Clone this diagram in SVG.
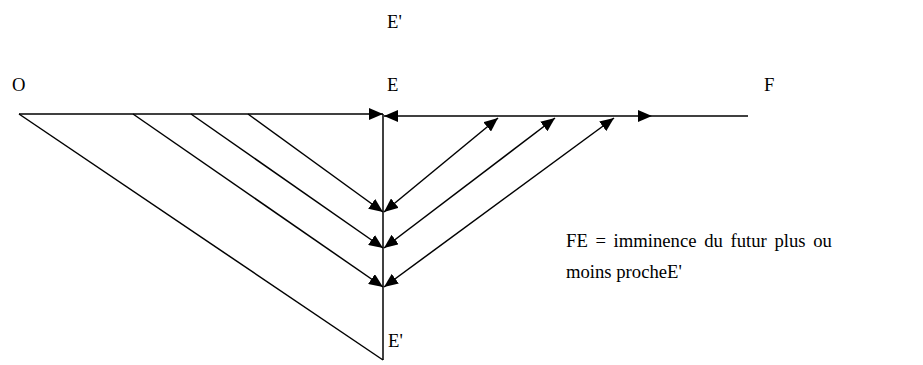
<svg xmlns="http://www.w3.org/2000/svg" width="923" height="365" viewBox="0 0 923 365">
<style>
text{font-family:"Liberation Serif","Times New Roman",serif;font-size:18.67px;fill:#000}
.ln{stroke:#000;stroke-width:1.5;fill:none}
.a{marker-end:url(#ah)}
.aa{marker-start:url(#ah);marker-end:url(#ah)}
</style>
<defs>
<marker id="ah" markerUnits="userSpaceOnUse" markerWidth="15" markerHeight="12" refX="14" refY="6" orient="auto-start-reverse">
<path d="M0,0 L14,6 L0,12 z" fill="#000"/>
</marker>
</defs>
<rect width="923" height="365" fill="#fff"/>
<g id="labels">
<text x="387" y="28">E'</text>
<text x="12" y="91">O</text>
<text x="387" y="91">E</text>
<text x="764" y="91">F</text>
<text x="388" y="347">E'</text>
<text x="566" y="247" word-spacing="3">FE = imminence du futur plus ou</text>
<text x="566" y="278">moins procheE'</text>
</g>
<g id="connectors">
<line class="ln a" x1="19" y1="114" x2="383" y2="114"/>
<line class="ln" x1="19" y1="114" x2="383" y2="360"/>
<line class="ln" x1="383" y1="114" x2="383" y2="360"/>
<line class="ln a" x1="133" y1="114" x2="383" y2="287"/>
<line class="ln a" x1="191" y1="114" x2="383" y2="248"/>
<line class="ln a" x1="248" y1="114" x2="383" y2="212"/>
<line class="ln aa" x1="384" y1="116" x2="652" y2="116"/>
<line class="ln" x1="652" y1="116" x2="748" y2="116"/>
<line class="ln aa" x1="384" y1="212" x2="498" y2="118"/>
<line class="ln aa" x1="384" y1="248" x2="555" y2="118"/>
<line class="ln aa" x1="384" y1="287" x2="614" y2="118"/>
</g>
</svg>
